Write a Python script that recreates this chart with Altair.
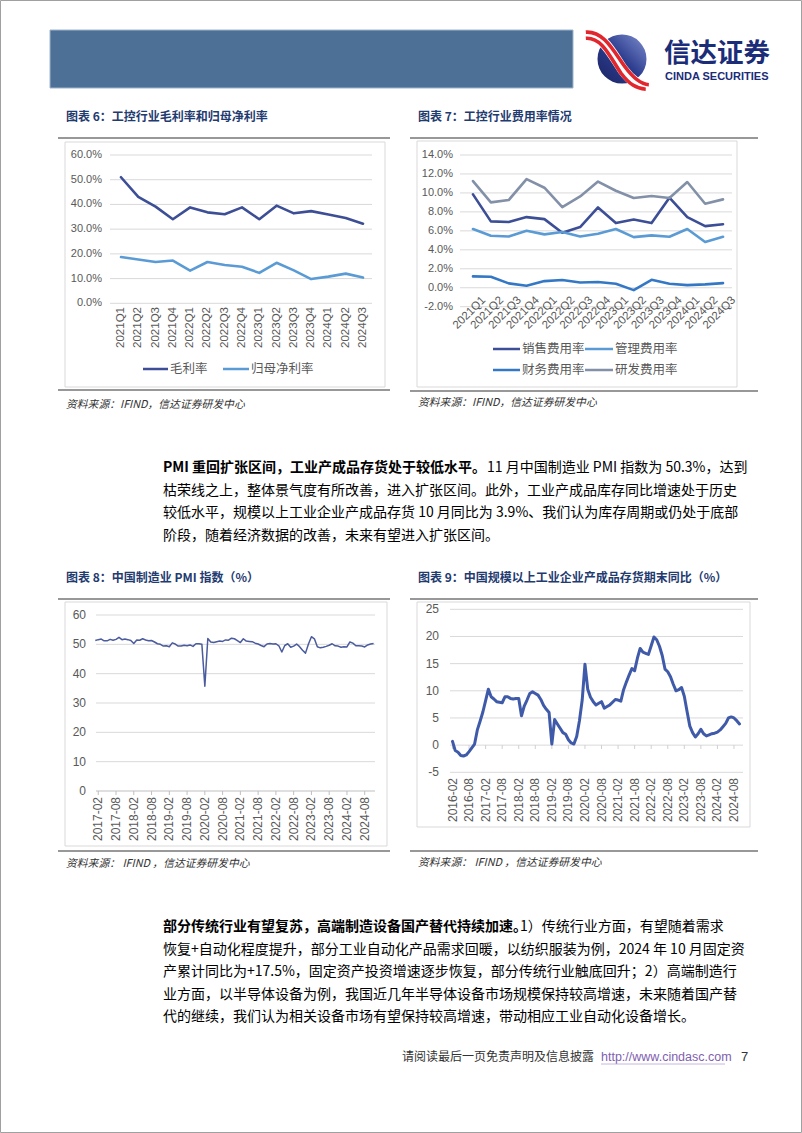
import altair as alt
import pandas as pd

CJK = "Noto Sans CJK SC"
LAT = "Liberation Sans"
GRID = "#D9D9D9"
AXC = "#595959"
TITLE_C = "#1F3B70"

# ---------------- data ----------------
quarters = ["2021Q1", "2021Q2", "2021Q3", "2021Q4", "2022Q1", "2022Q2", "2022Q3", "2022Q4",
            "2023Q1", "2023Q2", "2023Q3", "2023Q4", "2024Q1", "2024Q2", "2024Q3"]
gross_margin = [51.0, 43.1, 39.1, 34.0, 38.8, 36.8, 36.0, 38.8, 34.0, 39.5, 36.4, 37.3, 35.9, 34.5, 32.2]
net_margin = [18.7, 17.7, 16.7, 17.3, 13.2, 16.7, 15.5, 14.8, 12.3, 16.4, 13.3, 9.8, 10.8, 12.0, 10.4]

sales_rate = [9.85, 7.0, 6.93, 7.45, 7.24, 5.8, 6.4, 8.47, 6.82, 7.2, 6.82, 9.5, 7.45, 6.5, 6.7]
admin_rate = [6.19, 5.49, 5.41, 6.01, 5.63, 5.87, 5.41, 5.7, 6.19, 5.34, 5.52, 5.38, 6.19, 4.82, 5.38]
fin_rate = [1.2, 1.16, 0.46, 0.21, 0.7, 0.81, 0.56, 0.6, 0.42, -0.25, 0.84, 0.42, 0.28, 0.35, 0.49]
rd_rate = [11.25, 9.0, 9.25, 11.46, 10.55, 8.5, 9.63, 11.2, 10.23, 9.46, 9.67, 9.46, 11.15, 8.86, 9.32]

pmi_months = pd.period_range("2017-01", "2024-11", freq="M").strftime("%Y-%m").tolist()
pmi_values = [
    51.3, 51.6, 51.8, 51.2, 51.2, 51.7, 51.4, 51.7, 52.4, 51.6, 51.8, 51.6,
    51.3, 50.3, 51.5, 51.4, 51.9, 51.5, 51.2, 51.3, 50.8, 50.2, 50.0, 49.4,
    49.5, 49.2, 50.5, 50.1, 49.4, 49.4, 49.7, 49.5, 49.8, 49.3, 50.2, 50.2,
    50.0, 35.7, 52.0, 50.8, 50.6, 50.9, 51.1, 51.0, 51.5, 51.4, 52.1, 51.9,
    51.3, 50.6, 51.9, 51.1, 51.0, 50.9, 50.4, 50.1, 49.6, 49.2, 50.1, 50.3,
    50.1, 50.2, 49.5, 47.4, 49.6, 50.2, 49.0, 49.4, 50.1, 49.2, 48.0, 47.0,
    50.1, 52.6, 51.9, 49.2, 48.8, 49.0, 49.3, 49.7, 50.2, 49.5, 49.4, 49.0,
    49.2, 49.1, 50.8, 50.4, 49.5, 49.5, 49.4, 49.1, 49.8, 50.1, 50.3]
pmi_tick_labels = ["2017-02", "2017-08", "2018-02", "2018-08", "2019-02", "2019-08", "2020-02", "2020-08",
                   "2021-02", "2021-08", "2022-02", "2022-08", "2023-02", "2023-08", "2024-02", "2024-08"]

inv_months = pd.period_range("2016-02", "2024-10", freq="M").strftime("%Y-%m").tolist()
inv_values = [
    0.7, -1.0, -1.3, -1.9, -2.0, -1.8, -1.2, -0.5, 0.2, 2.8, 4.4,
    6.1, 8.2, 10.3, 8.9, 8.5, 8.0, 7.9, 7.8, 8.9, 8.9, 8.6, 8.5,
    8.6, 8.6, 5.4, 7.2, 8.3, 9.5, 9.8, 9.5, 9.2, 8.4, 7.3, 6.6,
    6.0, 0.2, 4.7, 3.9, 3.1, 2.3, 2.0, 1.0, 0.4, 0.2, 1.6, 4.5,
    8.3, 14.9, 10.3, 8.8, 8.0, 7.4, 7.7, 8.0, 6.8, 7.1, 7.4, 7.9,
    8.4, 8.3, 8.1, 10.2, 11.6, 12.9, 14.1, 13.7, 16.0, 17.8, 17.1, 16.9,
    16.7, 18.3, 19.9, 19.4, 18.2, 16.5, 14.0, 13.5, 12.6, 11.2, 10.0, 10.2,
    10.6, 9.0, 6.2, 3.5, 2.3, 1.5, 2.1, 2.9, 2.1, 1.7, 1.9, 2.1,
    2.2, 2.4, 2.8, 3.4, 4.0, 5.0, 5.2, 5.0, 4.5, 3.9]
inv_tick_labels = ["2016-02", "2016-08", "2017-02", "2017-08", "2018-02", "2018-08", "2019-02", "2019-08",
                   "2020-02", "2020-08", "2021-02", "2021-08", "2022-02", "2022-08", "2023-02", "2023-08",
                   "2024-02", "2024-08"]

y6_ticks = [0, 10, 20, 30, 40, 50, 60]
y6_labels = ["0.0%", "10.0%", "20.0%", "30.0%", "40.0%", "50.0%", "60.0%"]
y7_ticks = [-2, 0, 2, 4, 6, 8, 10, 12, 14]
y7_labels = ["-2.0%", "0.0%", "2.0%", "4.0%", "6.0%", "8.0%", "10.0%", "12.0%", "14.0%"]
y8_ticks = [0, 10, 20, 30, 40, 50, 60]
y8_labels = ["0", "10", "20", "30", "40", "50", "60"]
y9_ticks = [-5, 0, 5, 10, 15, 20, 25]
y9_labels = ["-5", "0", "5", "10", "15", "20", "25"]

s6_names = ["毛利率", "归母净利率"]
s6_colors = ["#3C4E96", "#5B9BD5"]
s7_names = ["销售费用率", "管理费用率", "财务费用率", "研发费用率"]
s7_colors = ["#3C4E96", "#5B9BD5", "#3478C5", "#8290A8"]

ONE = alt.Data(values=[{"k": 0}])


def txt(s, x, y, size=12, color="#000000", weight="normal", font=CJK, align="left",
        style="normal", baseline="middle"):
    return alt.Chart(ONE).mark_text(text=s, font=font, fontSize=size, color=color, fontWeight=weight,
                                    align=align, baseline=baseline, fontStyle=style).encode(
        x=alt.value(x), y=alt.value(y))


def hline(x1, x2, y, color, w=1.0):
    return alt.Chart(ONE).mark_rule(color=color, strokeWidth=w).encode(
        x=alt.value(x1), x2=alt.value(x2), y=alt.value(y))


def frame(x1, y1, x2, y2, stroke, fill="transparent", w=1.0):
    return alt.Chart(ONE).mark_rect(fill=fill, stroke=stroke, strokeWidth=w).encode(
        x=alt.value(x1), x2=alt.value(x2), y=alt.value(y1), y2=alt.value(y2))


def shape(path, x, y, size, stroke, w):
    return alt.Chart(ONE).mark_point(shape=path, filled=False, stroke=stroke, strokeWidth=w, size=size,
                                     opacity=1, strokeCap="butt").encode(x=alt.value(x), y=alt.value(y))


# ---------------- page decoration ----------------
deco = [
    frame(0.5, 0.5, 801.5, 1132.5, "#A0A0A0"),
    frame(50, 30, 573, 88, "#9FB4CC", fill="#4D7096"),
    alt.Chart(ONE).mark_point(shape="circle", filled=True, size=2400, opacity=1, strokeWidth=0,
                              fill=alt.Gradient(gradient="linear", x1=1, y1=0, x2=0, y2=1,
                                                stops=[alt.GradientStop(color="#8090D0", offset=0),
                                                       alt.GradientStop(color="#2C3C8E", offset=0.5),
                                                       alt.GradientStop(color="#1A2462", offset=1)])
                              ).encode(x=alt.value(622), y=alt.value(59)),
    shape("M -1.25 -0.85 C -0.6 -0.9 -0.3 -0.2 0.1 0.38 C 0.4 0.78 0.66 0.98 1.0 1.0",
          620, 59, 3136, "#FFFFFF", 11),
    shape("M -1.22 -0.96 C -0.58 -1.0 -0.24 -0.3 0.17 0.27 C 0.47 0.68 0.72 0.9 1.03 0.92",
          620, 59, 3136, "#E1262D", 3.6),
    shape("M -1.22 -0.74 C -0.64 -0.78 -0.36 -0.08 0.03 0.5 C 0.33 0.9 0.58 1.06 0.92 1.08",
          620, 59, 3136, "#E1262D", 3.6),
    txt("信达证券", 664, 54, size=26.5, color="#1B2C78", weight="bold"),
    txt("CINDA SECURITIES", 665, 77, size=11, color="#1B2C78", weight="bold", font=LAT),

    # chart titles / rules / frames / sources
    txt("图表 6：工控行业毛利率和归母净利率", 66, 117, size=12, color=TITLE_C, weight="bold"),
    txt("图表 7：工控行业费用率情况", 418, 117, size=12, color=TITLE_C, weight="bold"),
    hline(58, 390, 138, "#333333", 1.2), hline(410, 758, 138, "#333333", 1.2),
    frame(65, 142, 385, 387, GRID), frame(417, 141, 737, 387, GRID),
    hline(58, 390, 390, "#333333", 1.2), hline(410, 758, 391, "#333333", 1.2),
    txt("资料来源：IFIND，信达证券研发中心", 66, 405, size=10.8, color="#333333", style="italic"),
    txt("资料来源：IFIND，信达证券研发中心", 418, 403, size=10.8, color="#333333", style="italic"),

    txt("图表 8：中国制造业 PMI 指数（%）", 66, 578, size=12, color=TITLE_C, weight="bold"),
    txt("图表 9：中国规模以上工业企业产成品存货期末同比（%）", 418, 578, size=12, color=TITLE_C, weight="bold"),
    hline(58, 390, 599, "#333333", 1.2), hline(410, 758, 599, "#333333", 1.2),
    frame(65, 602, 387, 846, GRID), frame(417, 602, 750, 827, GRID),
    hline(58, 390, 851, "#333333", 1.2), hline(410, 758, 851, "#333333", 1.2),
    txt("资料来源： IFIND ，信达证券研发中心", 66, 864, size=10.8, color="#333333", style="italic"),
    txt("资料来源： IFIND ，信达证券研发中心", 418, 863, size=10.8, color="#333333", style="italic"),

    # legends
    hline(143, 168, 369, s6_colors[0], 2.5), txt(s6_names[0], 170, 369, size=12.5, color=AXC),
    hline(223, 249, 369, s6_colors[1], 2.5), txt(s6_names[1], 251, 369, size=12.5, color=AXC),
    hline(493, 520, 349, s7_colors[0], 2.5), txt(s7_names[0], 522, 349, size=12.5, color=AXC),
    hline(585, 613, 349, s7_colors[1], 2.5), txt(s7_names[1], 615, 349, size=12.5, color=AXC),
    hline(493, 520, 370, s7_colors[2], 2.5), txt(s7_names[2], 522, 370, size=12.5, color=AXC),
    hline(585, 613, 370, s7_colors[3], 2.5), txt(s7_names[3], 615, 370, size=12.5, color=AXC),

    # paragraph 1
    txt("PMI 重回扩张区间，工业产成品存货处于较低水平。", 163, 468, size=14, weight="bold"),
    txt("11 月中国制造业 PMI 指数为 50.3%，达到", 487, 468, size=14),
    txt("枯荣线之上，整体景气度有所改善，进入扩张区间。此外，工业产成品库存同比增速处于历史", 163, 490.5, size=14),
    txt("较低水平，规模以上工业企业产成品存货 10 月同比为 3.9%、我们认为库存周期或仍处于底部", 163, 513, size=14),
    txt("阶段，随着经济数据的改善，未来有望进入扩张区间。", 163, 535.5, size=14),

    # paragraph 2
    txt("部分传统行业有望复苏，高端制造设备国产替代持续加速。", 163, 927, size=14, weight="bold"),
    txt("1）传统行业方面，有望随着需求", 520, 927, size=14),
    txt("恢复+自动化程度提升，部分工业自动化产品需求回暖，以纺织服装为例，2024 年 10 月固定资", 163, 949.5, size=14),
    txt("产累计同比为+17.5%，固定资产投资增速逐步恢复，部分传统行业触底回升；2）高端制造行", 163, 972, size=14),
    txt("业方面，以半导体设备为例，我国近几年半导体设备市场规模保持较高增速，未来随着国产替", 163, 994.5, size=14),
    txt("代的继续，我们认为相关设备市场有望保持较高增速，带动相应工业自动化设备增长。", 163, 1017, size=14),

    # footer
    txt("请阅读最后一页免责声明及信息披露", 402, 1057, size=12, color="#333333"),
    txt("http://www.cindasc.com", 601, 1057, size=12.5, color="#8060B0", font=LAT),
    hline(601, 725, 1064, "#B8A5D8", 0.8),
    txt("7", 741, 1057, size=13, color="#333333", font=LAT),
]

# ---------------- chart 6 ----------------
df6 = pd.DataFrame({"q": quarters * 2, "v": gross_margin + net_margin,
                    "s": [s6_names[0]] * len(quarters) + [s6_names[1]] * len(quarters)})
x6 = alt.X("q:N", sort=quarters, scale=alt.Scale(type="point", range=[121, 363], padding=0), axis=None)
y6 = alt.Y("v:Q", scale=alt.Scale(domain=[0, 60], range=[303.3, 155], nice=False, zero=False), axis=None)
chart6 = alt.layer(
    alt.Chart(pd.DataFrame({"v": y6_ticks})).mark_rule(color=GRID, strokeWidth=1).encode(
        y=y6, x=alt.value(110), x2=alt.value(372)),
    alt.Chart(pd.DataFrame({"v": y6_ticks, "t": y6_labels})).mark_text(
        align="right", baseline="middle", font=LAT, fontSize=11, color=AXC).encode(
        y=y6, x=alt.value(102), text="t:N"),
    alt.Chart(pd.DataFrame({"q": quarters})).mark_text(
        angle=270, align="right", baseline="middle", font=LAT, fontSize=11.5, color=AXC).encode(
        x=x6, y=alt.value(307), text="q:N"),
    alt.Chart(df6).mark_line(strokeWidth=2.6, strokeJoin="round", strokeCap="round").encode(
        x=x6, y=y6, color=alt.Color("s:N", scale=alt.Scale(domain=s6_names, range=s6_colors), legend=None)),
)

# ---------------- chart 7 ----------------
n = len(quarters)
df7 = pd.DataFrame({"q": quarters * 4, "v": sales_rate + admin_rate + fin_rate + rd_rate,
                    "s": sum([[nm] * n for nm in s7_names], [])})
x7 = alt.X("q:N", sort=quarters, scale=alt.Scale(type="point", range=[473, 723], padding=0), axis=None)
y7 = alt.Y("v:Q", scale=alt.Scale(domain=[-2, 14], range=[306.7, 155], nice=False, zero=False), axis=None)
chart7 = alt.layer(
    alt.Chart(pd.DataFrame({"v": y7_ticks})).mark_rule(color=GRID, strokeWidth=1).encode(
        y=y7, x=alt.value(460), x2=alt.value(732)),
    alt.Chart(pd.DataFrame({"v": y7_ticks, "t": y7_labels})).mark_text(
        align="right", baseline="middle", font=LAT, fontSize=11, color=AXC).encode(
        y=y7, x=alt.value(453), text="t:N"),
    alt.Chart(pd.DataFrame({"q": quarters})).mark_text(
        angle=315, align="right", baseline="middle", font=LAT, fontSize=11.5, color=AXC, xOffset=11).encode(
        x=x7, y=alt.value(298.5), text="q:N"),
    alt.Chart(df7).mark_line(strokeWidth=2.6, strokeJoin="round", strokeCap="round").encode(
        x=x7, y=y7, color=alt.Color("s:N", scale=alt.Scale(domain=s7_names, range=s7_colors), legend=None)),
)

# ---------------- chart 8 ----------------
df8 = pd.DataFrame({"m": pmi_months, "v": pmi_values})
x8 = alt.X("m:N", sort=pmi_months, scale=alt.Scale(type="point", range=[95.3, 373.6], padding=0), axis=None)
y8 = alt.Y("v:Q", scale=alt.Scale(domain=[0, 60], range=[791, 615], nice=False, zero=False), axis=None)
chart8 = alt.layer(
    alt.Chart(pd.DataFrame({"v": y8_ticks[1:]})).mark_rule(color=GRID, strokeWidth=1).encode(
        y=y8, x=alt.value(96), x2=alt.value(375)),
    alt.Chart(pd.DataFrame({"v": [0]})).mark_rule(color="#BFBFBF", strokeWidth=1).encode(
        y=y8, x=alt.value(96), x2=alt.value(375)),
    alt.Chart(pd.DataFrame({"m": pmi_tick_labels})).mark_rule(color="#BFBFBF", strokeWidth=1).encode(
        x=x8, y=alt.value(791), y2=alt.value(795)),
    alt.Chart(pd.DataFrame({"v": y8_ticks, "t": y8_labels})).mark_text(
        align="right", baseline="middle", font=LAT, fontSize=12, color=AXC).encode(
        y=y8, x=alt.value(86), text="t:N"),
    alt.Chart(pd.DataFrame({"m": pmi_tick_labels})).mark_text(
        angle=270, align="right", baseline="middle", font=LAT, fontSize=12, color=AXC).encode(
        x=x8, y=alt.value(797), text="m:N"),
    alt.Chart(df8).mark_line(strokeWidth=1.5, color="#4A5B9E", strokeJoin="round").encode(x=x8, y=y8),
)

# ---------------- chart 9 ----------------
df9 = pd.DataFrame({"m": inv_months, "v": inv_values})
x9 = alt.X("m:N", sort=inv_months, scale=alt.Scale(type="point", range=[452.5, 739.5], padding=0), axis=None)
y9 = alt.Y("v:Q", scale=alt.Scale(domain=[-5, 25], range=[772.3, 609.3], nice=False, zero=False), axis=None)
chart9 = alt.layer(
    alt.Chart(pd.DataFrame({"v": y9_ticks})).mark_rule(color=GRID, strokeWidth=1).encode(
        y=y9, x=alt.value(450), x2=alt.value(743)),
    alt.Chart(pd.DataFrame({"m": inv_tick_labels})).mark_rule(color="#D0D0D0", strokeWidth=1).encode(
        x=x9, y=alt.value(745), y2=alt.value(749)),
    alt.Chart(pd.DataFrame({"v": y9_ticks, "t": y9_labels})).mark_text(
        align="right", baseline="middle", font=LAT, fontSize=12, color=AXC).encode(
        y=y9, x=alt.value(439), text="t:N"),
    alt.Chart(pd.DataFrame({"m": inv_tick_labels})).mark_text(
        angle=270, align="right", baseline="middle", font=LAT, fontSize=12, color=AXC).encode(
        x=x9, y=alt.value(778), text="m:N"),
    alt.Chart(df9).mark_line(strokeWidth=3, color="#3F5AA8", strokeJoin="round", strokeCap="round").encode(
        x=x9, y=y9),
)

chart = alt.layer(*deco, chart6, chart7, chart8, chart9).resolve_scale(
    x="independent", y="independent", color="independent"
).properties(
    width=802, height=1133, autosize=alt.AutoSizeParams(type="none"), padding=0, background="#FFFFFF"
).configure_view(stroke="transparent")

chart.save("out.html", embed_options={"renderer": "svg", "actions": False})
